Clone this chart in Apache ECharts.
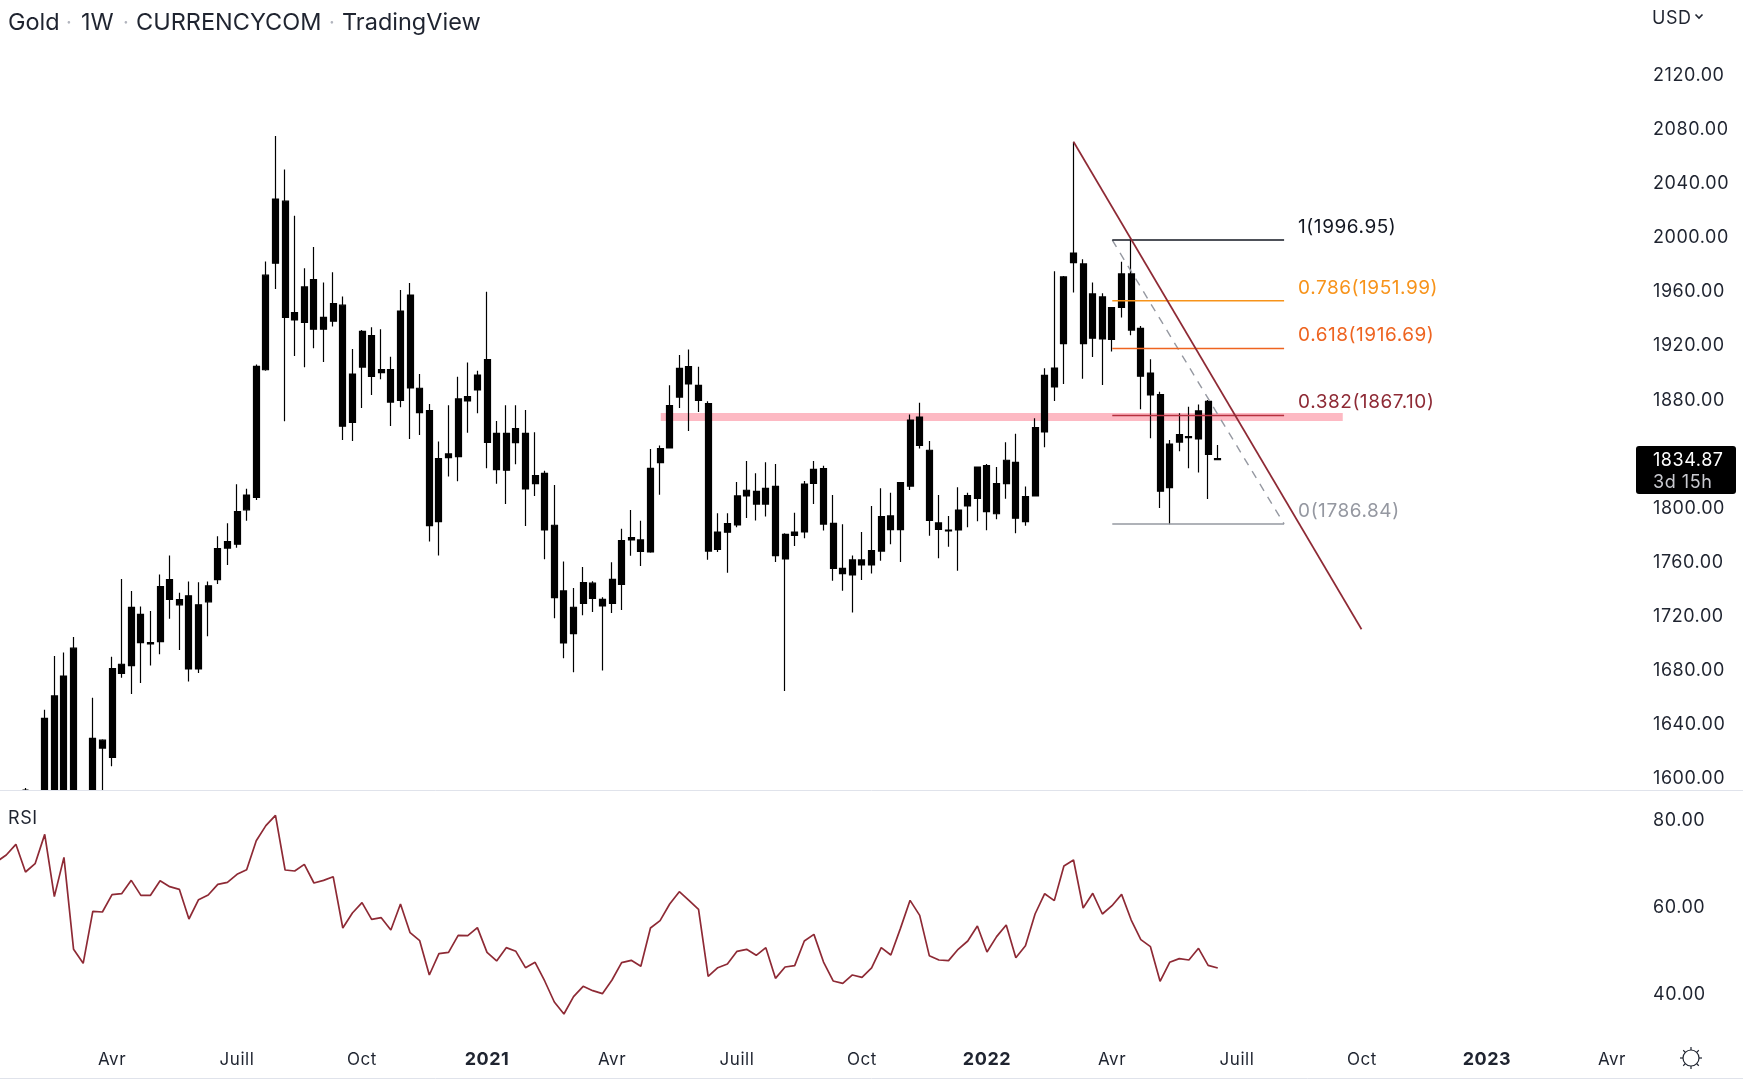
<!DOCTYPE html>
<html>
<head>
<meta charset="utf-8">
<title>Gold 1W CURRENCYCOM</title>
<script src="https://cdn.jsdelivr.net/npm/echarts@6/dist/echarts.min.js"></script>
<style>html,body{margin:0;padding:0;background:#fff}#chart{width:1743px;height:1080px}</style>
</head>
<body>
<div id="chart"></div>
<script>
// Weekly candles (all drawn black, so direction is not readable). Index 0 = first week at the chart's left edge.
const candleHigh = [1530,1570,1578,1591.5,1585,1649.3,1689.1,1691.7,1703.2,1585,1658.3,1627.5,1688.5,1746.2,1737.3,1725.7,1722.5,1749.5,1763.6,1736,1744.3,1743.7,1744.3,1777.7,1787.3,1816.2,1813,1904.8,1981.2,2074,2049.3,2014.9,1976.1,1991.8,1965.5,1973.2,1955.2,1916.4,1930.4,1932.4,1930.9,1910.7,1960,1965.2,1897.9,1875.7,1847.8,1874.7,1895.9,1906.3,1900.3,1958.8,1863.1,1874.7,1874.7,1871.2,1854.7,1826.3,1815.7,1759,1739.5,1755,1744.4,1732.6,1758.5,1783.4,1797.2,1789.3,1842.4,1845,1889.5,1911.9,1915.9,1903.3,1877.6,1794.7,1794.7,1817.9,1833.5,1824.3,1832.5,1831.2,1779.9,1795.2,1818.7,1833.5,1830,1808.3,1786.6,1763.6,1780.9,1800.2,1813.2,1810,1817.4,1867.8,1876.6,1848.3,1808.3,1792.8,1814,1810,1829.3,1831.2,1829,1847.3,1853.7,1814.5,1865.1,1902.1,1973.9,1970.4,2069.8,1982.7,1965.5,1957.6,1947.2,1981,1997.8,1933.4,1908.7,1884.8,1849,1868.8,1873.7,1875.2,1878.6,1845.3];
const bodyTop = [1520,1560,1570,1575,1575,1642.9,1659.6,1674.3,1694.9,1580,1628.1,1626.8,1679.8,1683,1725.1,1719.9,1699,1740.5,1745.6,1730.8,1733.7,1727,1741.1,1768.7,1773.8,1796,1808.2,1903.5,1971,2027.4,2025.8,1943.3,1962.3,1967.7,1939.8,1950,1948.8,1897.8,1929.4,1926.2,1901.1,1901.1,1944.5,1956.3,1887.3,1870.7,1835.2,1838.7,1879.4,1881.1,1897.1,1908.5,1853.9,1853.9,1857.4,1853.9,1822.6,1824.3,1785.9,1737.3,1725.2,1743.4,1743,1731.1,1745.9,1774.5,1776.7,1775,1828,1842.6,1874.4,1902,1903.3,1889.5,1875.9,1780.9,1787.1,1807.6,1811.8,1811,1813.2,1814.7,1779.2,1780.9,1816.4,1827.3,1827.8,1787.3,1754,1760.2,1760.2,1767.1,1792.3,1792.8,1817.4,1863.8,1866,1841.4,1787.6,1782.4,1797.2,1807.8,1829,1830,1816.7,1834,1832.5,1807.1,1858.2,1896.9,1902.3,1969.7,1987.4,1979.3,1957.1,1954.9,1947,1971.9,1971.9,1931.7,1898.6,1882.6,1846,1853,1851.5,1870.5,1877.6,1835.2];
const bodyBottom = [1505,1545,1555,1550,1560,1570,1585,1585,1565,1520,1500,1621,1614,1676.3,1682,1699,1698,1699.7,1731.1,1727,1679.5,1679.5,1729.2,1745.6,1769,1771.9,1797.3,1806.6,1901,1979.9,1939.8,1937.9,1936,1931,1931,1936.9,1859.2,1862.1,1903,1896.1,1898.8,1877.1,1878.4,1887.5,1869.3,1785.6,1788.6,1836,1836.7,1877.9,1886,1847.3,1827.1,1826.6,1847,1812.8,1816.7,1782.4,1732.3,1698.8,1705.7,1728.1,1731.8,1726.2,1728.1,1742.2,1775,1766.6,1766.1,1832.2,1843.1,1880.8,1890.5,1878.4,1766.8,1768.1,1780.7,1786.1,1807.6,1801.6,1801.6,1763.4,1760.9,1778.4,1780.9,1816.9,1786.8,1754,1750.1,1749.1,1756.5,1756.5,1766.8,1782.6,1782.6,1814.9,1845,1789.5,1782.9,1781.7,1782.4,1800.2,1805.8,1796,1794.4,1816.7,1791.1,1788.6,1807.6,1855,1888.3,1920.3,1980.3,1920.3,1924.3,1923.8,1923.5,1947.2,1930.4,1896.2,1882.3,1811.1,1813.7,1847.5,1850.8,1849.8,1838.4,1834.4];
const candleLow = [1495,1535,1545,1540,1550,1562,1575,1570,1555,1470,1480,1570,1607.6,1673,1660.9,1669.2,1682,1690.4,1716.7,1693.6,1670.2,1676.6,1703.8,1742.4,1756.5,1769.3,1789.3,1804.6,1900.3,1960.7,1862.8,1911.2,1902.9,1917,1906.7,1933,1849,1848.3,1872.7,1882.3,1893.9,1859.4,1873.2,1849.8,1852.7,1773.8,1763.6,1821.9,1818.4,1854.4,1868.8,1828.1,1816.7,1801.6,1831,1785.4,1807.6,1760.7,1717,1687.4,1677,1719.2,1721.7,1678.3,1721,1723.2,1763.4,1755.8,1765.6,1808.5,1843,1872.7,1855.7,1869.7,1760.4,1766.1,1750.8,1784.4,1791.3,1789.5,1792.3,1758.7,1663.3,1770.6,1776.2,1801.6,1782.1,1744.9,1737.5,1721.4,1745.4,1750.1,1759.7,1771.8,1758.7,1812,1842.8,1778.2,1761.4,1770,1752.3,1784.4,1788.8,1782.2,1790.3,1805.6,1780,1785.6,1807.6,1843.6,1877.9,1890.5,1958.1,1894.4,1910.5,1889.7,1914.6,1939.6,1926.5,1871.7,1850.3,1798.7,1786.6,1840.6,1828.1,1824.9,1805.4,1834.2];
const rsiValues = [70.03,71.56,74.02,67.66,69.57,76.31,61.99,71.03,49.88,46.66,58.61,58.46,62.44,62.67,65.74,62.29,62.29,65.66,64.28,63.67,56.85,61.29,62.37,64.82,65.28,67.12,68.19,74.86,78.31,80.68,68.12,67.89,69.42,65.13,65.74,66.58,54.78,58.23,60.61,56.77,57.16,54.32,60.3,53.71,51.87,43.98,48.88,49.19,53.1,53.02,54.86,49.19,47.2,50.26,49.42,45.66,46.89,42.6,37.77,35.01,39.0,41.37,40.37,39.69,42.83,46.81,47.35,45.97,54.78,56.47,60.3,63.13,61.14,59.07,43.67,45.66,46.51,49.42,49.88,48.5,50.26,43.21,45.82,46.12,51.79,53.32,46.96,42.6,42.06,43.98,43.44,45.59,50.26,48.57,54.7,61.14,57.69,48.42,47.42,47.27,49.88,51.79,55.24,49.26,52.79,55.47,47.96,50.72,58.0,62.67,61.07,69.03,70.41,59.38,62.75,58.0,59.91,62.52,56.62,52.1,50.49,42.52,46.89,47.73,47.42,50.11,46.2,45.59];

const weekCount = 172;
const tickWeeks = [12,25,38,51,64,77,90,103,116,129,142,155,168];
const tickLabels = ['Avr','Juill','Oct','2021','Avr','Juill','Oct','2022','Avr','Juill','Oct','2023','Avr'];
const priceTicks = [1600,1640,1680,1720,1760,1800,1880,1920,1960,2000,2040,2080,2120];
const rsiTicks = [40,60,80];

const fibLevels = ['1','0.786','0.618','0.382','0'];
const fibPrices = [1996.95,1951.99,1916.69,1867.10,1786.84];
const fibLineColors = ['#131722','#f7931a','#ee6420','#b5303f','#9598a1'];
const fibTextColors = ['#131722','#f7931a','#ee6420','#8e2a35','#9598a1'];
const fibStart = 116.03, fibEnd = 133.9;
const bandRange = [69.07,140.0], bandPrice = 1866;
const trendFrom = [112,2069.8], trendTo = [141.95,1708.9];
const lastPrice = 1834.87, countdown = '3d 15h';

// The reference text is slightly tracked; the canvas letter-spacing gives the same width.
const nativeFillText = CanvasRenderingContext2D.prototype.fillText;
CanvasRenderingContext2D.prototype.fillText = function () {
  this.letterSpacing = /\b(17|18|19)px/.test(this.font) ? '0.55px' : '0px';
  return nativeFillText.apply(this, arguments);
};

const FONT = 'Inter, "Noto Sans", sans-serif';
const ink = '#1f2430';
const PRICE_MIN = 1589.93, PRICE_MAX = 2174.69;
const weeks = Array.from({length: weekCount}, (_, i) => String(i));
// The candlestick series does not crop a box at the pane edge, so parts below the pane end at its floor.
const floor = (v) => Math.max(v, PRICE_MIN);
const candles = candleHigh.map((h, i) => h < PRICE_MIN ? '-' :
  [floor(bodyBottom[i]), floor(bodyTop[i]), floor(candleLow[i]), h]);

const overlay = (name, points, z, lineStyle, extra) => Object.assign({
  name, type: 'line', xAxisIndex: 2, yAxisIndex: 0, data: points, z,
  showSymbol: false, symbol: 'none', silent: true, animation: false, lineStyle
}, extra || {});

const fibSeries = fibLevels.map((lv, i) => overlay('fib ' + lv,
  [[fibStart, fibPrices[i]], [fibEnd, fibPrices[i]]], 4,
  {color: fibLineColors[i], width: 1.5},
  {endLabel: {show: true, formatter: lv + '(' + fibPrices[i].toFixed(2) + ')', color: fibTextColors[i],
    fontFamily: FONT, fontSize: 19, offset: [6, -13]}}));

const GRID_LEFT = -8.16, GRID_WIDTH = 1653.78;
const valueLabel = {margin: 7.4, formatter: (v) => '{p|' + v.toFixed(2) + '}',
  rich: {p: {fontFamily: FONT, fontSize: 18, color: ink, padding: [4, 0, 0, 0]}}};

const option = {
  backgroundColor: '#ffffff',
  animation: false,
  grid: [
    {left: GRID_LEFT, top: 0, width: GRID_WIDTH, height: 790, outerBoundsMode: 'none'},
    {left: GRID_LEFT, top: 792, width: GRID_WIDTH, height: 246, outerBoundsMode: 'none'}
  ],
  xAxis: [
    {type: 'category', gridIndex: 0, data: weeks, axisLine: {show: false}, axisTick: {show: false}, axisLabel: {show: false}, splitLine: {show: false}},
    {type: 'category', gridIndex: 1, data: weeks, axisLine: {show: false}, axisTick: {show: false}, splitLine: {show: false},
      axisLabel: {
        margin: 13, fontFamily: FONT, fontSize: 17, color: ink, hideOverlap: false,
        interval: (i) => tickWeeks.includes(i),
        formatter: (v) => {
          const t = tickLabels[tickWeeks.indexOf(Number(v))];
          return /^\d+$/.test(t) ? '{y|' + t + '}' : t;
        },
        rich: {y: {fontFamily: FONT, fontSize: 18, fontWeight: 700, color: ink}}
      }},
    {type: 'value', gridIndex: 0, position: 'top', min: -0.5, max: weekCount - 0.5, show: false}
  ],
  yAxis: [
    {type: 'value', gridIndex: 0, position: 'right', min: PRICE_MIN, max: PRICE_MAX, splitLine: {show: false}, axisLine: {show: false}, axisTick: {show: false},
      axisLabel: Object.assign({customValues: priceTicks}, valueLabel)},
    {type: 'value', gridIndex: 1, position: 'right', min: 29.49, max: 86.05, splitLine: {show: false}, axisLine: {show: false}, axisTick: {show: false},
      axisLabel: Object.assign({customValues: rsiTicks}, valueLabel)}
  ],
  series: [
    overlay('resistance band', [[bandRange[0], bandPrice], [bandRange[1], bandPrice]], 1, {color: '#fdb9c3', width: 8, cap: 'butt'}),
    {name: 'Gold', type: 'candlestick', xAxisIndex: 0, yAxisIndex: 0, data: candles, z: 2, barWidth: 6.5, silent: true, clip: true,
      itemStyle: {color: '#000', color0: '#000', borderColor: '#000', borderColor0: '#000', borderWidth: 1.2}},
    ...fibSeries,
    overlay('fib diagonal', [[fibStart, fibPrices[0]], [fibEnd, fibPrices[4]]], 3, {color: '#9598a1', width: 1.4, type: [8, 7]}),
    overlay('trend line', [trendFrom, trendTo], 5, {color: '#8e2a35', width: 1.7}),
    {name: 'RSI', type: 'line', xAxisIndex: 1, yAxisIndex: 1, data: rsiValues, showSymbol: false, symbol: 'none', silent: true,
      lineStyle: {color: '#8e2a35', width: 1.7}}
  ]
};

const chart = echarts.init(document.getElementById('chart'), null, {renderer: 'canvas'});
chart.setOption(option);

const txt = (text, x, y, size, fill, extra) => ({type: 'text', z: 20, silent: true,
  style: Object.assign({text, x, y, fontFamily: FONT, fontSize: size, fill, verticalAlign: 'middle', align: 'left'}, extra || {})});
const line = (x1, y1, x2, y2, stroke, w) => ({type: 'line', z: 20, silent: true, shape: {x1, y1, x2, y2}, style: {stroke, lineWidth: w}});

const tagY = chart.convertToPixel({yAxisIndex: 0}, lastPrice);
const sunX = 1691, sunY = 1058, rays = [];
for (let a = 0; a < 8; a++) {
  const t = a * Math.PI / 4;
  rays.push(line(sunX + 8 * Math.cos(t), sunY + 8 * Math.sin(t), sunX + 11 * Math.cos(t), sunY + 11 * Math.sin(t), ink, 1.2));
}
chart.setOption({graphic: [
  line(0, 790.5, 1743, 790.5, '#e0e3eb', 1),
  line(0, 1078.5, 1743, 1078.5, '#e0e3eb', 1),
  txt('Gold', 8, 22.5, 23.5, ink),
  txt('·', 66, 22.5, 20, '#b2b5be'),
  txt('1W', 81, 22.5, 23.5, ink),
  txt('·', 123, 22.5, 20, '#b2b5be'),
  txt('CURRENCYCOM', 136, 22.5, 23.5, ink),
  txt('·', 329, 22.5, 20, '#b2b5be'),
  txt('TradingView', 342, 22.5, 23.5, ink),
  txt('RSI', 8, 819, 18, ink),
  txt('USD', 1652, 18.5, 18, ink),
  {type: 'polyline', z: 20, silent: true, shape: {points: [[1695.5, 14.5], [1699, 18], [1702.5, 14.5]]}, style: {stroke: ink, lineWidth: 1.6, fill: null}},
  {type: 'rect', z: 20, silent: true, shape: {x: 1636, y: tagY - 13, width: 100, height: 48, r: 3}, style: {fill: '#000'}},
  txt(lastPrice.toFixed(2), 1653, tagY + 2, 18, '#ffffff'),
  txt(countdown, 1653, tagY + 24, 18, '#c9cad0'),
  {type: 'circle', z: 20, silent: true, shape: {cx: sunX, cy: sunY, r: 8}, style: {stroke: ink, lineWidth: 1.2, fill: null}},
  ...rays
]});
</script>
</body>
</html>
